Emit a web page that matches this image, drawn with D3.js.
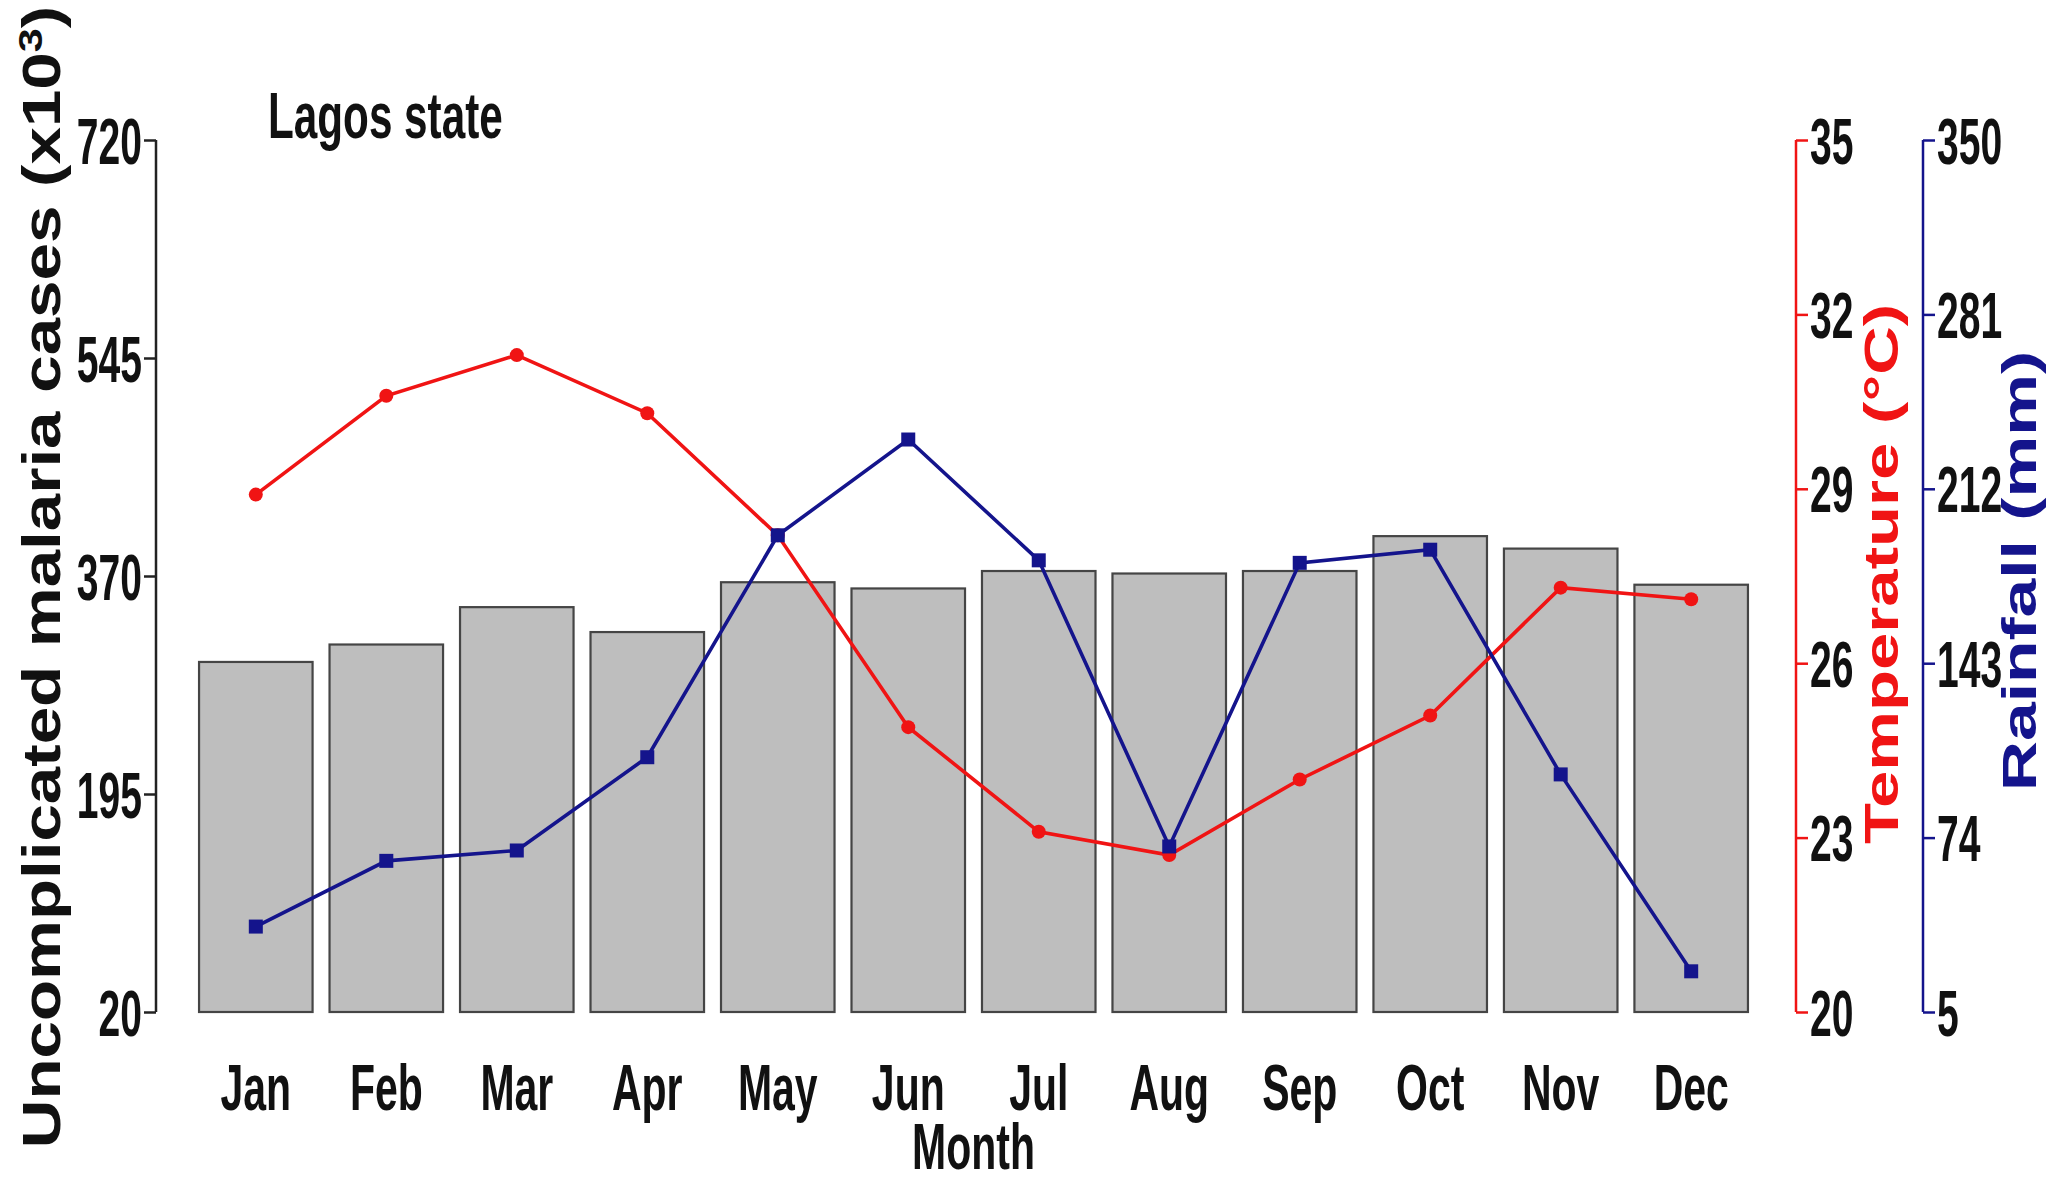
<!DOCTYPE html>
<html>
<head>
<meta charset="utf-8">
<script src="https://cdn.jsdelivr.net/npm/d3@7"></script>
<style>
  html, body { margin: 0; padding: 0; background: #fff; }
  svg { display: block; }
  text { font-family: "Liberation Sans", Arial, sans-serif; font-weight: bold; }
</style>
</head>
<body>
<script>
// ---- data ----
const months = ["Jan","Feb","Mar","Apr","May","Jun","Jul","Aug","Sep","Oct","Nov","Dec"];
const cases = [301, 315, 345, 325, 365, 360, 374, 372, 374, 402, 392, 363];          // x10^3
const temperature = [28.9, 30.6, 31.3, 30.3, 28.2, 24.9, 23.1, 22.7, 24.0, 25.1, 27.3, 27.1]; // °C
const rainfall = [38.8, 64.8, 68.9, 105.8, 193.6, 231.5, 183.7, 70.5, 182.7, 187.9, 99.0, 21.1]; // mm
const casesTicks = [20, 195, 370, 545, 720];
const tempTicks = [20, 23, 26, 29, 32, 35];
const rainTicks = [5, 74, 143, 212, 281, 350];

// ---- layout ----
const W = 2057, H = 1182;
const svg = d3.select("body").append("svg").attr("width", W).attr("height", H);

const yTop = 140, yBot = 1012;
const x = d3.scaleBand().domain(months).range([186, 1761]).paddingInner(0.13).paddingOuter(0.1);
const yCases = d3.scaleLinear().domain([20, 720]).range([yBot, yTop]);
const yTemp = d3.scaleLinear().domain([20, 35]).range([yBot, yTop]);
const yRain = d3.scaleLinear().domain([5, 350]).range([yBot, yTop]);

const FS = 64, SX = 0.61, SXM = 0.64;
const red = "#f01414", blue = "#14148c";

// bars
svg.append("g").selectAll("rect").data(months).join("rect")
  .attr("x", d => x(d))
  .attr("width", x.bandwidth())
  .attr("y", (d, i) => yCases(cases[i]))
  .attr("height", (d, i) => yCases(20) - yCases(cases[i]))
  .attr("fill", "#bebebe")
  .attr("stroke", "#454545")
  .attr("stroke-width", 2.2);

// axis helper (R style: line spans first..last tick)
function drawAxis(g, scale, ticks, xPos, side, color) {
  const a = (side === "left" ? d3.axisLeft(scale) : d3.axisRight(scale))
    .tickValues(ticks).tickSize(12).tickSizeOuter(0).tickPadding(2);
  const ax = g.append("g").attr("transform", `translate(${xPos},0)`).call(a);
  ax.select(".domain").remove();
  ax.selectAll(".tick line").attr("stroke", color).attr("stroke-width", 2.5);
  ax.append("line")
    .attr("x1", 0).attr("x2", 0)
    .attr("y1", scale(ticks[0])).attr("y2", scale(ticks[ticks.length - 1]))
    .attr("stroke", color).attr("stroke-width", 2.5);
  ax.selectAll(".tick text").each(function() {
    const t = d3.select(this);
    const tx = side === "left" ? -14 : 14;
    t.attr("x", null).attr("dy", null)
      .attr("transform", `translate(${tx},0) scale(${SX},1)`)
      .attr("dy", "0.36em")
      .attr("fill", "#111")
      .style("font-size", FS + "px")
      .style("font-family", '"Liberation Sans", Arial, sans-serif')
      .style("font-weight", "bold");
  });
  return ax;
}
drawAxis(svg, yCases, casesTicks, 156, "left", "#222");
drawAxis(svg, yTemp, tempTicks, 1796, "right", red);
drawAxis(svg, yRain, rainTicks, 1923, "right", blue);

// month labels
svg.append("g").selectAll("text").data(months).join("text")
  .attr("transform", d => `translate(${x(d) + x.bandwidth() / 2},1110) scale(${SXM},1)`)
  .attr("text-anchor", "middle")
  .style("font-size", FS + "px")
  .attr("fill", "#111")
  .text(d => d);

svg.append("text")
  .attr("transform", `translate(${(x.range()[0] + x.range()[1]) / 2},1169) scale(${SXM},1)`)
  .attr("text-anchor", "middle")
  .style("font-size", FS + "px")
  .attr("fill", "#111")
  .text("Month");

// title
svg.append("text")
  .attr("transform", `translate(268,138) scale(0.66,1)`)
  .style("font-size", FS + "px")
  .attr("fill", "#111")
  .text("Lagos state");

// temperature line
const cx = d => x(d) + x.bandwidth() / 2;
svg.append("path")
  .datum(months)
  .attr("fill", "none").attr("stroke", red).attr("stroke-width", 3.6)
  .attr("d", d3.line().x(d => cx(d)).y((d, i) => yTemp(temperature[i])));
svg.append("g").selectAll("circle").data(months).join("circle")
  .attr("cx", d => cx(d)).attr("cy", (d, i) => yTemp(temperature[i]))
  .attr("r", 7).attr("fill", red);

// rainfall line
svg.append("path")
  .datum(months)
  .attr("fill", "none").attr("stroke", blue).attr("stroke-width", 3.6)
  .attr("d", d3.line().x(d => cx(d)).y((d, i) => yRain(rainfall[i])));
svg.append("g").selectAll("rect").data(months).join("rect")
  .attr("x", d => cx(d) - 7).attr("y", (d, i) => yRain(rainfall[i]) - 7)
  .attr("width", 14).attr("height", 14).attr("fill", blue);

// axis titles (rotated)
const left = svg.append("text")
  .attr("transform", `translate(60,577) rotate(-90) scale(1.27,1)`)
  .attr("text-anchor", "middle")
  .style("font-size", "53px")
  .attr("fill", "#111");
left.append("tspan").text("Uncomplicated malaria cases (x10");
left.append("tspan").attr("baseline-shift", "super").style("font-size", "34px").text("3");
left.append("tspan").text(")");

svg.append("text")
  .attr("transform", `translate(1898,574) rotate(-90) scale(1.37,1)`)
  .attr("text-anchor", "middle")
  .style("font-size", "49px")
  .attr("fill", red)
  .text("Temperature (°C)");

svg.append("text")
  .attr("transform", `translate(2036,571) rotate(-90) scale(1.42,1)`)
  .attr("text-anchor", "middle")
  .style("font-size", "49px")
  .attr("fill", blue)
  .text("Rainfall (mm)");
</script>
</body>
</html>
